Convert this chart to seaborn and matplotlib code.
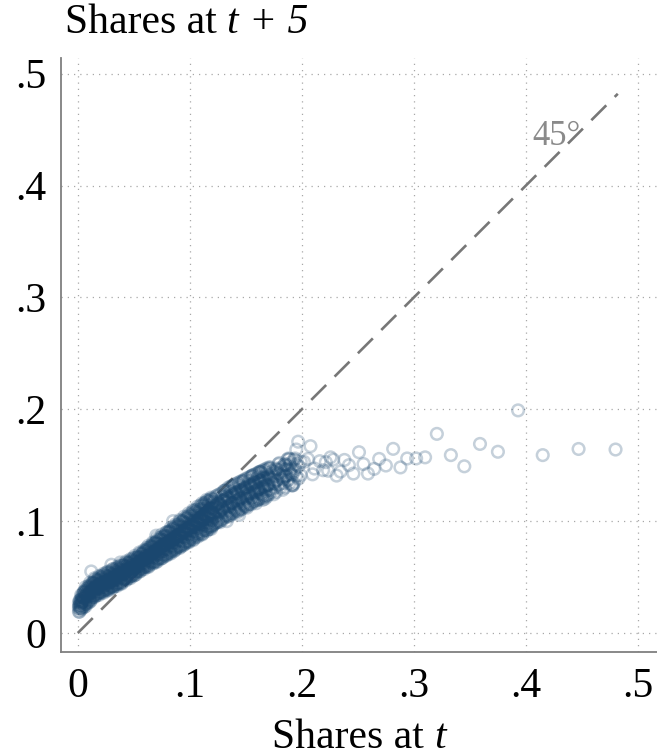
import matplotlib
matplotlib.use("Agg")
import matplotlib.pyplot as plt
import seaborn as sns
import numpy as np
import pandas as pd

# ---------------- data (values in thousandths: 1 = 0.001 share) ----------------
# dense core: share at t (one column per entry) and shares at t+5 in that column
core_t = [1, 2, 3, 4, 5, 6, 7, 8, 9, 10, 11, 12, 13, 14, 15, 16, 17, 18, 19, 20,
          21, 22, 23, 24, 25, 26, 27, 28, 29, 30, 31, 32, 33, 34, 35, 36, 37, 38, 39, 40,
          41, 42, 43, 44, 45, 46, 47, 48, 49, 50, 51, 52, 53, 54, 55, 56, 57, 58, 59, 60,
          61, 62, 63, 64, 65, 66, 67, 68, 69, 70, 71, 72, 73, 74, 75, 76, 77, 78, 79, 80,
          81, 82, 83, 84, 85, 86, 87, 88, 89, 90, 91, 92, 93, 94, 95, 96, 97, 98, 99, 100,
          101, 102, 103, 104, 105, 106, 107, 108, 109, 110, 111, 112, 113, 114, 115, 116, 117, 118, 119, 120]
core_t5 = [
    [19, 22, 24, 27], [22, 25, 27, 29], [23, 25, 27, 30], [27, 28, 30, 32],
    [24, 28, 32, 36], [26, 31, 34, 37], [26, 29, 33, 36], [30, 32, 35, 38],
    [28, 32, 36, 40], [30, 35, 38, 41], [30, 33, 37, 40], [34, 36, 39, 42],
    [32, 36, 40, 44], [34, 39, 42, 45], [34, 37, 41, 44], [37, 39, 42, 45],
    [35, 39, 43, 47], [36, 41, 44, 47], [36, 39, 43, 46], [40, 42, 45, 48],
    [37, 41, 45, 49], [39, 44, 47, 50], [38, 41, 45, 48], [41, 43, 46, 49],
    [39, 43, 47, 51], [40, 45, 48, 51], [40, 43, 47, 50], [43, 45, 48, 51],
    [41, 45, 49, 53], [42, 47, 50, 53], [42, 45, 49, 52], [45, 47, 50, 53],
    [43, 47, 51, 55], [44, 49, 52, 55], [44, 47, 51, 54], [48, 50, 53, 56],
    [45, 49, 53, 57], [47, 52, 55, 58], [46, 49, 53, 56], [50, 52, 55, 58],
    [48, 52, 56, 60], [49, 54, 57, 60], [49, 52, 56, 59], [52, 54, 57, 60],
    [50, 54, 58, 62], [52, 57, 60, 63], [51, 54, 58, 61], [55, 57, 60, 63],
    [52, 56, 60, 64], [54, 59, 62, 65], [54, 57, 61, 64], [57, 59, 62, 65],
    [55, 59, 63, 67], [57, 62, 65, 68], [57, 60, 64, 67], [60, 62, 65, 68],
    [58, 62, 66, 70], [60, 65, 68, 71], [59, 62, 66, 69], [62, 64, 68, 72],
    [60, 65, 69, 74], [62, 67, 71, 74], [61, 64, 69, 73], [65, 67, 71, 75],
    [63, 68, 72, 77], [65, 70, 74, 77], [64, 67, 72, 76], [68, 70, 74, 78],
    [64, 69, 74, 80], [67, 73, 77, 81], [66, 70, 75, 80], [70, 72, 76, 80],
    [67, 72, 77, 83], [70, 76, 80, 84], [69, 73, 78, 83], [73, 75, 79, 83],
    [70, 75, 80, 86], [73, 79, 83, 87], [71, 75, 80, 85], [75, 78, 82, 87],
    [72, 78, 83, 90], [74, 81, 86, 90], [73, 77, 83, 88], [78, 81, 85, 90],
    [75, 81, 86, 93], [77, 84, 89, 93], [76, 80, 86, 91], [81, 84, 88, 93],
    [77, 83, 88, 95], [79, 87, 92, 97], [78, 83, 89, 95], [82, 86, 91, 96],
    [79, 86, 92, 99], [82, 90, 95, 100], [81, 86, 92, 98], [85, 89, 94, 99],
    [82, 89, 95, 102], [85, 93, 98, 103], [83, 88, 94, 100], [88, 92, 97, 102],
    [85, 92, 98, 105], [87, 95, 100, 105], [86, 91, 97, 103], [91, 95, 100, 105],
    [88, 95, 101, 108], [90, 98, 103, 108], [89, 94, 100, 106], [94, 98, 103, 108],
    [90, 97, 103, 110], [93, 101, 106, 111], [91, 97, 103, 109], [96, 101, 106, 111],
    [92, 99, 106, 114], [96, 104, 109, 114], [94, 99, 106, 112], [98, 103, 108, 114],
    [95, 102, 109, 117], [98, 107, 112, 118], [96, 101, 108, 115], [101, 106, 111, 117],
]

# outer rows of the dense core (between the columns above)
edge_t = [1.5, 3.5, 5.5, 7.5, 9.5, 11.5, 13.5, 15.5, 17.5, 19.5, 21.5, 23.5, 25.5, 27.5,
          29.5, 31.5, 33.5, 35.5, 37.5, 39.5, 41.5, 43.5, 45.5, 47.5, 49.5, 51.5, 53.5,
          55.5, 57.5, 59.5, 61.5, 63.5, 65.5, 67.5, 69.5, 71.5, 73.5, 75.5, 77.5, 79.5,
          81.5, 83.5, 85.5, 87.5, 89.5, 91.5, 93.5, 95.5, 97.5, 99.5, 101.5, 103.5,
          105.5, 107.5, 109.5, 111.5, 113.5, 115.5, 117.5, 119.5]
edge_t5 = [
    [19, 24, 29], [22, 28, 33], [23, 31, 37], [26, 33, 39], [27, 35, 42], [29, 37, 43],
    [32, 39, 45], [33, 40, 48], [34, 42, 48], [36, 43, 50], [36, 44, 51], [38, 45, 52],
    [38, 46, 54], [39, 46, 54], [41, 47, 55], [41, 48, 57], [42, 50, 57], [44, 51, 58],
    [44, 52, 60], [45, 53, 60], [48, 54, 61], [48, 55, 63], [49, 57, 63], [51, 58, 65],
    [51, 59, 67], [52, 60, 67], [55, 62, 68], [55, 63, 71], [57, 65, 71], [59, 66, 73],
    [59, 67, 76], [60, 69, 76], [63, 70, 78], [63, 72, 80], [63, 73, 81], [66, 74, 83],
    [66, 76, 85], [67, 77, 86], [69, 79, 87], [70, 80, 90], [71, 82, 91], [73, 83, 92],
    [73, 84, 95], [75, 86, 95], [77, 87, 97], [77, 88, 100], [78, 90, 100], [80, 91, 102],
    [81, 93, 104], [82, 94, 105], [84, 95, 107], [84, 97, 109], [86, 98, 110],
    [88, 100, 111], [88, 101, 114], [89, 102, 114], [92, 104, 116], [92, 105, 118],
    [93, 106, 119], [95, 108, 120],
]

# outermost fringe of the core
fringe_t = [3, 7, 11, 15, 19, 23, 27, 31, 35, 39, 43, 47, 51, 55, 59, 63, 67, 71, 75, 79,
            83, 87, 91, 95, 99, 103, 107, 111, 115, 119]
fringe_t5 = [
    [21, 34], [24, 41], [28, 45], [32, 49], [34, 51], [36, 53], [38, 55], [40, 57],
    [42, 59], [44, 61], [47, 64], [49, 66], [52, 69], [55, 72], [57, 74], [59, 78],
    [62, 81], [64, 85], [67, 88], [69, 90], [71, 94], [74, 97], [76, 101], [79, 104],
    [81, 107], [83, 110], [86, 113], [88, 116], [91, 119], [93, 121],
]

# thinner band between .12 and .20
band_t = [121, 123, 125, 127, 129, 131, 133, 135, 137, 139, 141, 143, 145, 147, 149,
          151, 153, 155, 157, 159, 161, 163, 165, 167, 169, 171, 173, 175, 177, 179,
          181, 183, 185, 187, 189, 191, 193, 195, 197, 199,
          122, 126, 130, 134, 138, 142, 146, 150, 154, 158, 162, 166, 170, 174, 178,
          182, 186, 190, 194,
          124, 128, 132, 136, 140, 144, 148, 152, 156, 160, 164, 168, 172, 176, 180,
          184, 188,
          120.5, 122.5, 124.5, 126.5, 128.5, 130.5, 132.5, 134.5, 136.5, 138.5, 140.5,
          142.5, 144.5, 146.5, 148.5, 150.5, 152.5, 154.5, 156.5, 158.5, 160.5, 162.5,
          164.5, 166.5, 168.5, 170.5]
band_t5 = [
    [97, 106, 117], [103, 114, 122], [101, 112, 117], [99, 108, 115], [101, 111, 122],
    [108, 119, 127], [106, 117, 122], [104, 113, 120], [106, 116, 127], [112, 123, 131],
    [110, 121, 126], [108, 117, 124], [110, 120, 131], [116, 127, 135], [114, 125, 130],
    [112, 121, 128], [115, 125, 136], [121, 132, 140], [118, 129, 134], [116, 125, 132],
    [119, 129, 140], [125, 136, 144], [123, 134, 139], [120, 129, 136], [122, 132, 143],
    [128, 139, 147], [126, 137, 142], [124, 133, 140], [126, 136, 147], [132, 143, 151],
    [130, 141, 146], [128, 137, 144], [130, 140, 151], [136, 147, 155], [134, 145, 150],
    [132, 141, 148], [134, 144, 155], [140, 151], [138, 149], [141, 153],
    [104, 112], [106, 116], [110, 118], [112, 121], [116, 124], [115, 125], [118, 128],
    [120, 130], [123, 133], [126, 135], [127, 137], [131, 139], [132, 141], [134, 145],
    [137, 146], [139, 148], [141, 150], [143, 152], [146, 156],
    [99, 115], [104, 119], [105, 123], [109, 126], [111, 129], [113, 133], [115, 136],
    [117, 133], [120, 141], [121, 138], [124, 143], [127, 145], [128, 148], [130, 144],
    [133, 152], [134, 150], [137, 156],
    [96, 104, 111, 119], [98, 107, 113, 120], [99, 108, 115, 123], [100, 109, 116, 124],
    [102, 111, 118, 125], [103, 112, 119, 127], [104, 113, 120, 128], [105, 114, 121, 130],
    [107, 116, 122, 131], [107, 116, 124, 132], [109, 118, 125, 133], [109, 119, 126, 134],
    [111, 120, 127, 135], [111, 121, 128, 136], [113, 122, 129, 137], [113, 123, 130, 138],
    [115, 124, 131, 139], [115, 125, 132, 140], [117, 126, 133, 141], [118, 127, 134, 142],
    [119, 128, 135, 143], [120, 129, 136, 144], [121, 130, 137, 145], [122, 131, 138, 146],
    [123, 132, 139, 147], [124, 133, 140, 148],
]

# isolated points off the band
outlier_t = [12, 30, 38, 70, 85, 113, 116, 118, 133, 144, 165, 162, 192]
outlier_t5 = [55, 61, 63, 87, 100, 116, 95, 95, 100, 105.5, 119, 144, 132]

# sparse tail beyond .18
tail_t = [183.3, 185, 189, 191.7, 195, 196.7, 201.8, 205.4, 207.7, 209.5, 211.3, 216, 219,
          221.4, 223.5, 225.6, 228, 231, 234.5, 238, 242, 246, 251, 255, 259, 264.6, 269,
          275, 281.5, 288, 294, 302, 310, 320.5, 333, 345, 359, 375, 393, 415, 447, 480]
tail_t5 = [140, 146, 155.6, 132, 164, 171, 153, 155.6, 167, 141.8, 147, 153.6, 145.5,
           152.7, 145, 157, 155, 140.7, 144.3, 154.7, 150, 142.5, 161.6, 151, 142.5, 146.7,
           155.6, 149.7, 164.6, 148, 156, 156, 157, 178, 159, 149, 169, 162, 199, 159,
           164.5, 164]

line45 = [0.0, 0.482]
ticks = [0, 0.1, 0.2, 0.3, 0.4, 0.5]
tick_labels = ["0", ".1", ".2", ".3", ".4", ".5"]

# ---------------- assemble ----------------
xs, ys = [], []
groups = (list(zip(core_t, core_t5)) + list(zip(edge_t, edge_t5))
          + list(zip(fringe_t, fringe_t5)) + list(zip(band_t, band_t5)))
for xv, col in groups:
    for yv in col:
        xs.append(xv); ys.append(yv)
xs += outlier_t + tail_t
ys += outlier_t5 + tail_t5
df = pd.DataFrame({"share_t": np.array(xs) / 1000.0, "share_t5": np.array(ys) / 1000.0})

# ---------------- style ----------------
sns.set_style("white")
plt.rcParams["font.family"] = ["Liberation Serif", "DejaVu Serif"]
plt.rcParams["text.color"] = "black"

navy = (26 / 255, 71 / 255, 111 / 255)
gray = "#7f7f7f"

fig = plt.figure(figsize=(6.57, 7.56), dpi=100)
ax = fig.add_axes([61 / 657, 104 / 756, 596 / 657, 594 / 756])

ax.plot(line45, line45, color="#777777", lw=1.9, dashes=(8, 4.5), zorder=2)
sns.scatterplot(data=df, x="share_t", y="share_t5", ax=ax, marker="o", s=70,
                facecolors="none", edgecolor=navy, linewidth=1.8, alpha=0.25, zorder=3)
ax.text(0.406, 0.4365, "45°", color="#8a8a8a", fontsize=25, ha="left", va="baseline")

ax.set_xlim(-0.015, 0.517)
ax.set_ylim(-0.017, 0.514)
ax.set_xticks(ticks)
ax.set_xticklabels(tick_labels)
ax.set_yticks(ticks)
ax.set_yticklabels(tick_labels)
ax.grid(True, color="#a8a8a8", lw=0.9, linestyle=(0, (1, 4)), zorder=0)
ax.set_axisbelow(True)

for s in ["top", "right"]:
    ax.spines[s].set_visible(False)
for s in ["left", "bottom"]:
    ax.spines[s].set_color(gray)
    ax.spines[s].set_linewidth(1.3)

ax.tick_params(axis="both", which="major", length=9, width=1.1, color=gray,
               labelsize=30, labelcolor="black", direction="out")
ax.tick_params(axis="x", pad=2)
ax.tick_params(axis="y", pad=1.5)
ax.set_xlabel("")
ax.set_ylabel("")

# title: "Shares at " upright followed by italic "t + 5"
t1 = fig.text(65 / 657, 1 - 33 / 756, "Shares at ", fontsize=30, ha="left",
              va="baseline", color="black")
fig.canvas.draw()
bb = t1.get_window_extent(renderer=fig.canvas.get_renderer())
fig.text(bb.x1 / fig.bbox.width, 1 - 33 / 756, "t + 5", fontsize=30, style="italic",
         ha="left", va="baseline", color="black")

# x title: "Shares at " upright + italic "t", centred on the axes
fs_x = 30
p1 = fig.text(0, 0, "Shares at ", fontsize=fs_x, color="black")
p2 = fig.text(0, 0, "t", fontsize=fs_x, style="italic", color="black")
fig.canvas.draw()
r = fig.canvas.get_renderer()
w1 = p1.get_window_extent(renderer=r).width
w2 = p2.get_window_extent(renderer=r).width
x0 = 359 - (w1 + w2) / 2
p1.set_position((x0 / 657, 1 - 748 / 756)); p1.set_va("baseline")
p2.set_position(((x0 + w1) / 657, 1 - 748 / 756)); p2.set_va("baseline")

fig.savefig("out.png", dpi=100)
